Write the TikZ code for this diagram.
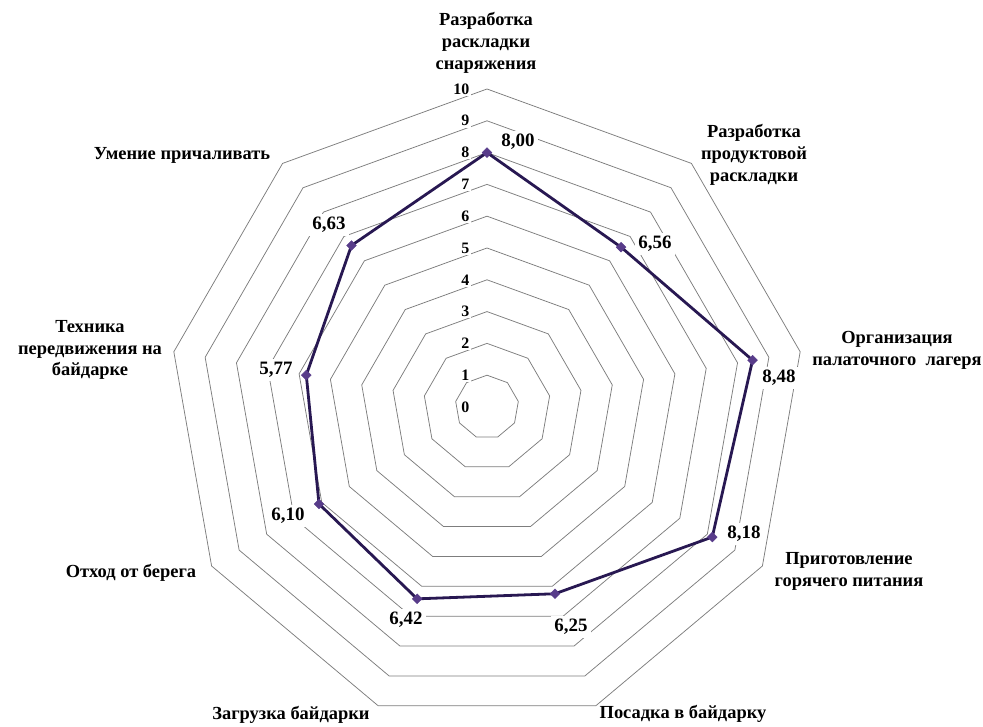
\documentclass[tikz,border=0pt]{standalone}
\usepackage{fontspec}
\setmainfont{Liberation Serif}
\usetikzlibrary{shapes.geometric,calc}
\definecolor{gridc}{RGB}{125,125,125}
\definecolor{linec}{RGB}{40,24,82}
\definecolor{markc}{RGB}{88,60,138}
\begin{document}
\begin{tikzpicture}[x=1bp,y=1bp,
  gridline/.style={draw=gridc, line width=0.75bp},
  catlabel/.style={font=\bfseries\fontsize{18.5}{22}\selectfont, align=center, inner sep=0pt},
  vallabel/.style={font=\bfseries\fontsize{19}{22}\selectfont, fill=white, inner sep=3bp},
  ticklabel/.style={font=\bfseries\fontsize{16}{18}\selectfont, fill=white, inner sep=1.5bp, anchor=east},
  dataline/.style={draw=linec, line width=2.8bp, line join=round},
  marker/.style={diamond, fill=markc, draw=markc, inner sep=0pt, minimum size=10bp}
]
\useasboundingbox (0,0) rectangle (983,727);
\coordinate (C) at (487,320);
% rings
\foreach \k in {1,...,10}{
  \pgfmathsetmacro\r{31.8*\k}
  \draw[gridline, shift={(C)}] (90:\r) \foreach \i in {1,...,8}{ -- ({90-40*\i}:\r)} -- cycle;
}
% tick labels
\foreach \k in {0,...,10}{
  \node[ticklabel] (t\k) at (471, 320+31.8*\k) {\k};
}
% value labels
\node[vallabel] (v0) at (518,585) {8,00};
\node[vallabel] (v1) at (655,483) {6,56};
\node[vallabel] (v2) at (779,349) {8,48};
\node[vallabel] (v3) at (744,193) {8,18};
\node[vallabel] (v4) at (571,100) {6,25};
\node[vallabel] (v5) at (406,107) {6,42};
\node[vallabel] (v6) at (288,211) {6,10};
\node[vallabel] (v7) at (276,357) {5,77};
\node[vallabel] (v8) at (329,502) {6,63};
% category labels
\node[catlabel] (c0) at (486,684) {Разработка\\раскладки\\снаряжения};
\node[catlabel] (c1) at (754,572) {Разработка\\продуктовой\\раскладки};
\node[catlabel] (c2) at (897,377) {Организация\\палаточного\ \ лагеря};
\node[catlabel] (c3) at (849,156) {Приготовление\\горячего питания};
\node[catlabel] (c4) at (683,13) {Посадка в байдарку};
\node[catlabel] (c5) at (291,12) {Загрузка байдарки};
\node[catlabel] (c6) at (131,154) {Отход от берега};
\node[catlabel] (c7) at (90,377) {Техника\\передвижения на\\байдарке};
\node[catlabel] (c8) at (182,572) {Умение причаливать};
% data
\foreach \v [count=\i from 0] in {8.00,6.56,8.48,8.18,6.25,6.42,6.10,5.77,6.63}{
  \pgfmathsetmacro\rr{31.8*\v}
  \pgfmathsetmacro\aa{90-40*\i}
  \coordinate (p\i) at ($(C)+(\aa:\rr)$);
}
\draw[dataline] (p0) -- (p1) -- (p2) -- (p3) -- (p4) -- (p5) -- (p6) -- (p7) -- (p8) -- cycle;
\foreach \i in {0,...,8}{
  \node[marker] (m\i) at (p\i) {};
}
\end{tikzpicture}
\end{document}
